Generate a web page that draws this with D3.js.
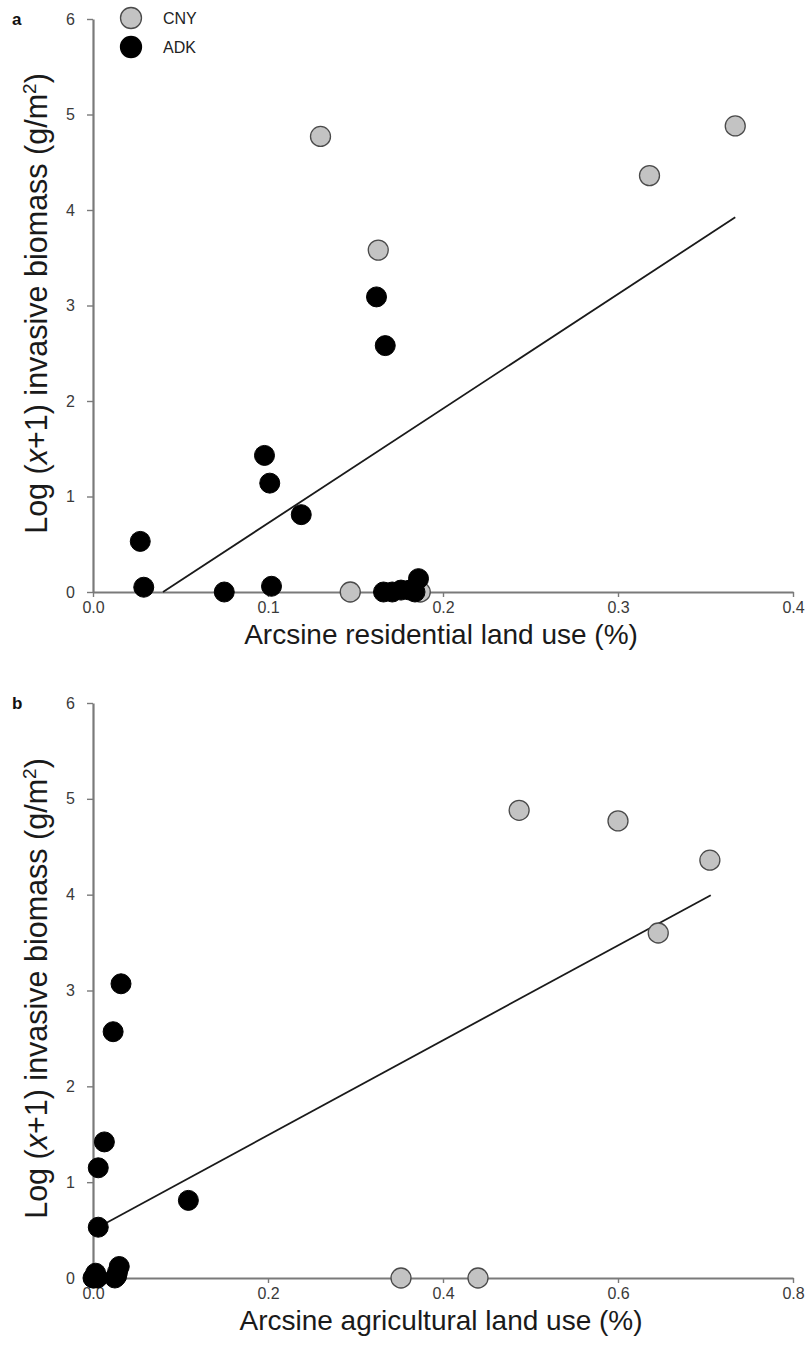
<!DOCTYPE html>
<html>
<head>
<meta charset="utf-8">
<script src="https://cdn.jsdelivr.net/npm/d3@7"></script>
<style>
  html, body { margin: 0; padding: 0; background: #fff; }
  svg { display: block; font-family: "Liberation Sans", Arial, sans-serif; }
</style>
</head>
<body>
<svg id="chart" width="811" height="1352"></svg>
<script>
// ---- Data ----
// Residential land use (arcsine) vs log(x+1) invasive biomass
const cnyResX = [0.130, 0.163, 0.318, 0.367, 0.147, 0.187];
const cnyResY = [4.77, 3.58, 4.36, 4.88, 0.0, 0.0];
const adkResX = [0.027, 0.029, 0.075, 0.098, 0.101, 0.102, 0.119, 0.162, 0.167, 0.166, 0.171, 0.176, 0.181, 0.184, 0.186];
const adkResY = [0.53, 0.05, 0.0, 1.43, 1.14, 0.06, 0.81, 3.09, 2.58, 0.0, 0.0, 0.02, 0.02, 0.0, 0.14];

// Agricultural land use (arcsine) vs log(x+1) invasive biomass
const cnyAgrX = [0.487, 0.600, 0.705, 0.646, 0.352, 0.440];
const cnyAgrY = [4.88, 4.77, 4.36, 3.60, 0.0, 0.0];
const adkAgrX = [0.032, 0.023, 0.013, 0.006, 0.006, 0.109, 0.0, 0.002, 0.003, 0.005, 0.025, 0.027, 0.028, 0.030, 0.001];
const adkAgrY = [3.07, 2.57, 1.42, 1.15, 0.53, 0.81, 0.0, 0.02, 0.05, 0.0, 0.0, 0.02, 0.06, 0.12, 0.0];

// Fitted regression lines: x extent and [intercept, slope]
const fitResX = [0.040, 0.367];
const fitResCoef = [-0.48, 12.0];
const fitAgrX = [0.005, 0.706];
const fitAgrCoef = [0.50, 4.95];

// Axis ticks and labels
const yTicks = [0, 1, 2, 3, 4, 5, 6];
const xTicksRes = [0.0, 0.1, 0.2, 0.3, 0.4];
const xTicksAgr = [0.0, 0.2, 0.4, 0.6, 0.8];
const seriesNames = ["CNY", "ADK"];
const panelLetters = ["a", "b"];
const xTitles = ["Arcsine residential land use (%)", "Arcsine agricultural land use (%)"];

// ---- Drawing ----
const svg = d3.select("#chart");
const AXIS_COLOR = "#7a7a7a";
const GREY_FILL = "#c3c3c3";
const GREY_STROKE = "#4a4a4a";
const R = 10;

function panel(opts) {
  const g = svg.append("g");
  const x = d3.scaleLinear().domain([0, opts.xMax]).range([93, 793]);
  const y = d3.scaleLinear().domain([0, 6]).range([opts.y0, opts.y6]);

  // x axis
  const xa = g.append("g")
    .attr("transform", `translate(0,${opts.y0})`)
    .call(d3.axisBottom(x).tickValues(opts.xTicks).tickFormat(d3.format(".1f"))
      .tickSize(5).tickSizeOuter(0).tickPadding(5));
  // y axis
  const ya = g.append("g")
    .attr("transform", `translate(93,0)`)
    .call(d3.axisLeft(y).tickValues(yTicks).tickFormat(d3.format("d"))
      .tickSize(6).tickSizeOuter(0).tickPadding(12));

  [xa, ya].forEach(a => {
    a.select(".domain").attr("stroke", AXIS_COLOR).attr("stroke-width", 2.2);
    a.selectAll(".tick line").attr("stroke", AXIS_COLOR).attr("stroke-width", 1.4);
    a.selectAll(".tick text").attr("fill", "#3a3a3a")
      .style("font-size", "16px").style("font-family", "'Liberation Sans', Arial, sans-serif");
  });

  // regression line
  const fy = v => opts.coef[0] + opts.coef[1] * v;
  g.append("line")
    .attr("x1", x(opts.fitX[0])).attr("y1", y(fy(opts.fitX[0])))
    .attr("x2", x(opts.fitX[1])).attr("y2", y(fy(opts.fitX[1])))
    .attr("stroke", "#1a1a1a").attr("stroke-width", 1.8);

  // CNY points (grey)
  g.append("g").selectAll("circle")
    .data(d3.zip(opts.cx, opts.cy)).join("circle")
    .attr("cx", d => x(d[0])).attr("cy", d => y(d[1])).attr("r", R)
    .attr("fill", GREY_FILL).attr("stroke", GREY_STROKE).attr("stroke-width", 1.3);

  // ADK points (black)
  g.append("g").selectAll("circle")
    .data(d3.zip(opts.ax, opts.ay)).join("circle")
    .attr("cx", d => x(d[0])).attr("cy", d => y(d[1])).attr("r", R)
    .attr("fill", "#000").attr("stroke", "#000").attr("stroke-width", 1);

  // panel letter
  g.append("text").attr("x", 12).attr("y", opts.y6 + 6)
    .attr("font-weight", "bold").attr("font-size", 17).attr("fill", "#111")
    .text(opts.letter);

  // x title
  g.append("text").attr("x", 441).attr("y", opts.y0 + 52)
    .attr("text-anchor", "middle").attr("font-size", 28).attr("fill", "#1a1a1a")
    .text(opts.xTitle);

  // y title
  const yt = g.append("text")
    .attr("transform", `translate(47,${(opts.y0 + opts.y6) / 2 - 2}) rotate(-90)`)
    .attr("text-anchor", "middle").attr("font-size", 30.5).attr("fill", "#1a1a1a");
  yt.append("tspan").text("Log (");
  yt.append("tspan").attr("font-style", "italic").text("x");
  yt.append("tspan").text("+1) invasive biomass (g/m");
  yt.append("tspan").attr("font-size", 19).attr("dy", -11).text("2");
  yt.append("tspan").attr("dy", 11).text(")");

  return { x, y };
}

panel({ xMax: 0.4, xTicks: xTicksRes, y0: 592, y6: 19, fitX: fitResX, coef: fitResCoef,
        cx: cnyResX, cy: cnyResY, ax: adkResX, ay: adkResY, letter: panelLetters[0], xTitle: xTitles[0] });
panel({ xMax: 0.8, xTicks: xTicksAgr, y0: 1278, y6: 703, fitX: fitAgrX, coef: fitAgrCoef,
        cx: cnyAgrX, cy: cnyAgrY, ax: adkAgrX, ay: adkAgrY, letter: panelLetters[1], xTitle: xTitles[1] });

// legend
const legend = svg.append("g");
const legendFill = [GREY_FILL, "#000"];
const legendStroke = [GREY_STROKE, "#000"];
seriesNames.forEach((name, i) => {
  const cy = 18 + i * 29;
  legend.append("circle").attr("cx", 131).attr("cy", cy).attr("r", 10.5)
    .attr("fill", legendFill[i]).attr("stroke", legendStroke[i]).attr("stroke-width", 1.3);
  legend.append("text").attr("x", 163).attr("y", cy + 6)
    .attr("font-size", 16).attr("fill", "#222").text(name);
});
</script>
</body>
</html>
